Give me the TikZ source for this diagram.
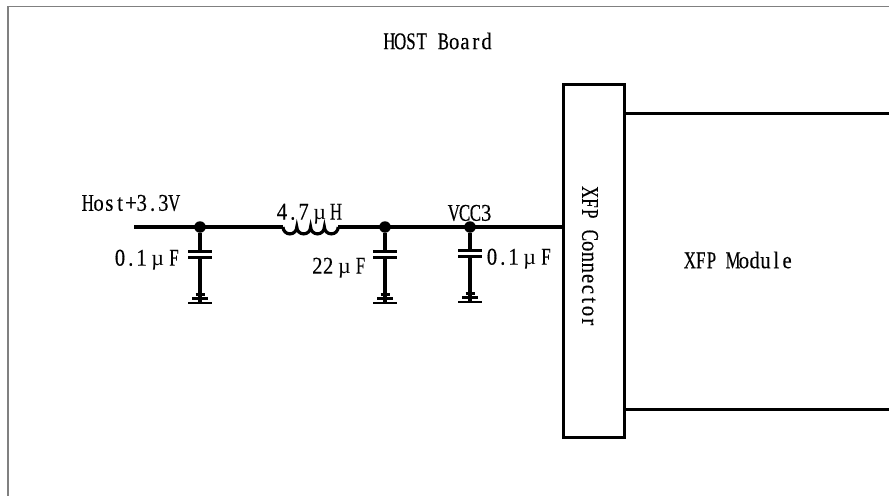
\documentclass[tikz,border=0pt]{standalone}
\usepackage{fontspec}
\setmainfont[FakeStretch=0.7,FakeBold=0.3]{Liberation Serif}
\newfontfamily\widefont[FakeStretch=0.86,FakeBold=0.3]{Liberation Serif}
\newfontfamily\symfont{Liberation Serif}
\makeatletter
\def\cells#1{\cells@#1\@nil}
\def\cells@#1{\ifx#1\@nil\else\makebox[10.8pt]{\cellfont{#1}}\expandafter\cells@\fi}
\def\cellfont#1{\ifnum\uccode`#1=`#1\else\widefont\fi #1}
\makeatother
\newcommand{\much}{\makebox[21.6pt]{\fontsize{22}{22}\symfont\textmu}}
\tikzset{
  wire/.style={line width=3.2pt,black},
  boxline/.style={line width=3.2pt,black},
  plate/.style={line width=3pt,black},
  gnd/.style={line width=2.3pt,black},
  frameline/.style={line width=1.4pt,black!50},
  lbl/.style={inner sep=0pt,font=\fontsize{24}{24}\selectfont},
  jct/.style={circle,fill=black,draw=none,minimum size=11.5pt,inner sep=0pt},
}
\begin{document}
\begin{tikzpicture}[x=1pt,y=-1pt]
\useasboundingbox (0,0) rectangle (889,496);
\coordinate (fa) at (889,6.5);
\coordinate (fb) at (8,6.5);
\coordinate (fc) at (8,496);
\draw[frameline] (fa) -- (fb) -- (fc);
\node[lbl] (host) at (438,41) {\cells{HOST~Board}};
% connector and module
\node[draw,boxline,minimum width=61pt,minimum height=353pt,inner sep=0pt,anchor=north west] (conn) at (562,83) {};
\node[lbl,rotate=-90] (connl) at (590,257) {\cells{XFP~Connector}};
\coordinate (mt) at (889,113.5);
\coordinate (mb) at (889,409.5);
\draw[boxline] (conn.east |- mt) -- (mt);
\draw[boxline] (conn.east |- mb) -- (mb);
\node[lbl] (mod) at (738.5,260) {\cells{XFP~Module}};
% main wire
\coordinate (w0) at (134,227);
\coordinate (l0) at (283,227);
\coordinate (l1) at (338,227);
\node[jct] (j1) at (200,227) {};
\node[jct] (j2) at (385,227) {};
\node[jct] (j3) at (470,227) {};
\draw[wire] (w0) -- (l0);
\draw[wire] (l0) arc[start angle=180,end angle=0,radius=6.9] arc[start angle=180,end angle=0,radius=6.9] arc[start angle=180,end angle=0,radius=6.9] arc[start angle=180,end angle=0,radius=6.9];
\draw[wire] (l1) -- (conn.west |- l1);
% capacitors
\foreach \n/\j/\x/\dy in {a/j1/200/0,b/j2/385/0,c/j3/470/-1}{
  \coordinate (\n t) at (\x,{251.5+\dy});
  \coordinate (\n b) at (\x,{257+\dy});
  \coordinate (\n g) at (\x,{303+\dy});
  \draw[wire] (\j) -- (\n t);
  \draw[wire] (\n b) -- (\n g);
  \draw[plate] ([xshift=-12pt]\n t) -- ([xshift=12pt]\n t);
  \draw[plate] ([xshift=-12pt]\n b) -- ([xshift=12pt]\n b);
  \draw[gnd] ([xshift=-12pt]\n g) -- ([xshift=12pt]\n g);
  \draw[gnd] ([xshift=-8pt,yshift=4.4pt]\n g) -- ([xshift=8pt,yshift=4.4pt]\n g);
  \draw[gnd] ([xshift=-4.5pt,yshift=8.6pt]\n g) -- ([xshift=4.5pt,yshift=8.6pt]\n g);
}
% labels
\node[lbl] (lh) at (131,203) {\cells{Host+3.3V}};
\node[lbl] (l47) at (309,214) {\cells{4.7}\much\cells{H}};
\node[lbl] (lv) at (470,213) {\cells{VCC3}};
\node[lbl] (c1) at (147,260) {\cells{0.1}\much\cells{F}};
\node[lbl] (c2) at (339,268) {\cells{22}\much\cells{F}};
\node[lbl] (c3) at (519,259) {\cells{0.1}\much\cells{F}};
\end{tikzpicture}
\end{document}
